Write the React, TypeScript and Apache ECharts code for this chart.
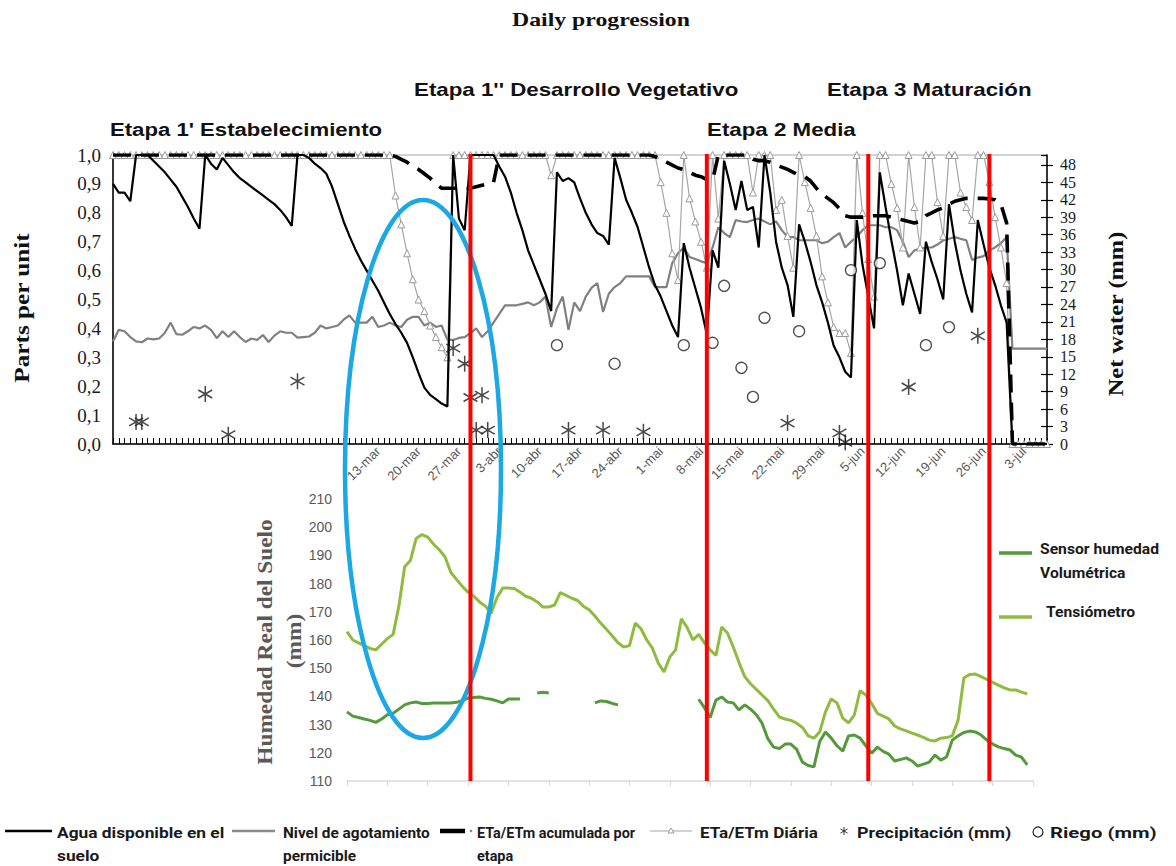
import React, { useEffect, useRef } from 'react';
import * as echarts from 'echarts';

// ---- categories (daily, top panel) ----
const MONTHS = ['ene', 'feb', 'mar', 'abr', 'mai', 'jun', 'jul', 'ago'];
const categories: string[] = [];
for (let i = 0; i < 163; i++) {
  const d = new Date(2015, 0, 26 + i);
  categories.push(`${d.getDate()}-${MONTHS[d.getMonth()]}`);
}
const bottomCategories: string[] = categories.slice(41, 161);

const tickLabels = ['13-mar', '20-mar', '27-mar', '3-abr', '10-abr', '17-abr', '24-abr', '1-mai', '8-mai',
  '15-mai', '22-mai', '29-mai', '5-jun', '12-jun', '19-jun', '26-jun', '3-jul'];
const stageDates = ['29-mar', '9-mai', '6-jun', '27-jun'];

// ---- Agua disponible en el suelo (parts per unit) ----
const agua = [
  0.90, 0.87, 0.87, 0.84, 1.0, 1.0, 1.0, 0.98, 0.96, 0.94,
  0.915, 0.89, 0.855, 0.82, 0.78, 0.745, 1.0, 0.97, 0.95, 0.99,
  0.965, 0.94, 0.92, 0.905, 0.89, 0.875, 0.86, 0.845, 0.83, 0.81,
  0.785, 0.755, 1.0, 1.0, 0.99, 0.97, 0.955, 0.935, 0.89, 0.83,
  0.77, 0.72, 0.675, 0.635, 0.60, 0.565, 0.53, 0.49, 0.45, 0.415,
  0.385, 0.35, 0.30, 0.245, 0.195, 0.17, 0.155, 0.14, 0.13, 1.0,
  0.78, 0.74, 1.0, 1.0, 1.0, 1.0, 1.0, 0.96, 0.925, 0.87,
  0.80, 0.74, 0.67, 0.62, 0.57, 0.52, 0.46, 0.94, 0.91, 0.92,
  0.905, 0.85, 0.80, 0.76, 0.73, 0.72, 0.69, 0.99, 0.92, 0.845,
  0.80, 0.75, 0.68, 0.61, 0.55, 0.51, 0.46, 0.41, 0.37, 0.695,
  0.61, 0.54, 0.47, 0.38, 0.67, 0.61, 0.98, 0.90, 0.81, 0.91,
  0.81, 0.82, 0.68, 1.0, 0.87, 0.70, 0.61, 0.55, 0.44, 0.76,
  0.70, 0.63, 0.55, 0.49, 0.42, 0.34, 0.30, 0.25, 0.23, 0.775,
  0.62, 0.51, 0.40, 0.94, 0.82, 0.705, 0.60, 0.48, 0.59, 0.52,
  0.45, 0.70, 0.63, 0.57, 0.50, 0.83, 0.70, 0.60, 0.52, 0.455,
  0.775, 0.69, 0.61, 0.55, 0.48, 0.42, 0, 0, 0, 0,
  0, 0, 0,
];

// ---- Nivel de agotamiento permicible ----
const nivel = [
  0.355, 0.395, 0.39, 0.37, 0.355, 0.352, 0.365, 0.362, 0.365, 0.385,
  0.42, 0.38, 0.378, 0.39, 0.405, 0.40, 0.41, 0.395, 0.366, 0.39,
  0.37, 0.39, 0.37, 0.353, 0.365, 0.36, 0.377, 0.353, 0.375, 0.39,
  0.385, 0.385, 0.368, 0.37, 0.372, 0.385, 0.41, 0.40, 0.405, 0.41,
  0.43, 0.445, 0.42, 0.42, 0.42, 0.44, 0.405, 0.41, 0.42, 0.41,
  0.405, 0.43, 0.44, 0.44, 0.41, 0.42, 0.405, 0.41, 0.36, 0.36,
  0.367, 0.37, 0.384, 0.40, 0.37, 0.39, 0.42, 0.45, 0.48, 0.48,
  0.48, 0.485, 0.49, 0.48, 0.49, 0.51, 0.405, 0.47, 0.51, 0.395,
  0.49, 0.46, 0.51, 0.54, 0.557, 0.457, 0.52, 0.543, 0.557, 0.58,
  0.58, 0.58, 0.58, 0.58, 0.543, 0.543, 0.543, 0.626, 0.66, 0.68,
  0.647, 0.64, 0.632, 0.626, 0.68, 0.75, 0.73, 0.716, 0.775, 0.77,
  0.768, 0.775, 0.78, 0.77, 0.76, 0.77, 0.74, 0.716, 0.716, 0.705,
  0.705, 0.705, 0.705, 0.695, 0.70, 0.716, 0.73, 0.68, 0.70, 0.716,
  0.74, 0.757, 0.757, 0.757, 0.75, 0.75, 0.74, 0.70, 0.647, 0.67,
  0.675, 0.68, 0.68, 0.69, 0.705, 0.71, 0.716, 0.71, 0.705, 0.637,
  0.645, 0.65, 0.67, 0.68, 0.695, 0.716, 0.33, 0.33, 0.33, 0.33,
  0.33, 0.33, 0.33,
];

// ---- ETa/ETm acumulada por etapa ----
const acumulada = [
  1, 1, 1, 1, 1, 1, 1, 1, 1, 1,
  1, 1, 1, 1, 1, 1, 1, 1, 1, 1,
  1, 1, 1, 1, 1, 1, 1, 1, 1, 1,
  1, 1, 1, 1, 1, 1, 1, 1, 1, 1,
  1, 1, 1, 1, 1, 1, 1, 1, 1, 0.995,
  0.985, 0.975, 0.96, 0.95, 0.935, 0.92, 0.90, 0.885, 0.885, 0.885,
  0.885, 0.885, 0.885, 0.89, 0.895, 0.90, 0.905, 1, 1, 1,
  1, 1, 1, 1, 1, 1, 1, 1, 1, 1,
  1, 1, 1, 1, 1, 1, 1, 1, 1, 1,
  1, 1, 1, 1, 0.995, 0.985, 0.975, 0.965, 0.955, 0.95,
  0.94, 0.93, 0.925, 0.915, 0.913, 1, 1, 1, 1, 1,
  1, 0.985, 0.98, 0.98, 0.975, 0.965, 0.958, 0.95, 0.94, 0.93,
  0.925, 0.91, 0.885, 0.865, 0.85, 0.835, 0.815, 0.79, 0.785, 0.785,
  0.785, 0.786, 0.79, 0.79, 0.79, 0.785, 0.78, 0.775, 0.77, 0.765,
  0.77, 0.79, 0.80, 0.81, 0.817, 0.83, 0.84, 0.845, 0.85, 0.85,
  0.85, 0.85, 0.848, 0.845, 0.83, 0.765, 0, 0, 0, 0,
  0, 0, 0,
];

// ---- ETa/ETm Diária ----
const diaria = [
  1, 1, 1, 1, 1, 1, 1, 1, 1, 1,
  1, 1, 1, 1, 1, 1, 1, 1, 1, 1,
  1, 1, 1, 1, 1, 1, 1, 1, 1, 1,
  1, 1, 1, 1, 1, 1, 1, 1, 1, 1,
  1, 1, 1, 1, 1, 1, 1, 1, 1, 0.86,
  0.76, 0.66, 0.57, 0.50, 0.46, 0.41, 0.37, 0.335, 0.30, 1,
  1, 1, 1, 1, 1, 1, 1, 1, 1, 1,
  1, 1, 1, 1, 1, 1, 0.93, 1, 1, 1,
  1, 1, 1, 1, 1, 1, 1, 1, 1, 1,
  1, 1, 1, 1, 1, 0.906, 0.80, 0.66, 0.567, 1,
  0.85, 0.77, 0.70, 0.61, 1, 0.78, 1, 1, 1, 1,
  1, 0.87, 1, 1, 1, 0.81, 0.845, 0.72, 0.61, 1,
  0.906, 0.817, 0.72, 0.58, 0.49, 0.405, 0.384, 0.384, 0.315, 1,
  0.80, 0.64, 0.51, 1, 1, 0.90, 0.817, 0.68, 1, 0.82,
  0.68, 1, 1, 0.837, 0.72, 1, 1, 0.87, 0.82, 0.775,
  1, 1, 0.906, 0.785, 0.68, 0.557, 0, 0, 0, 0,
  0, 0, 0,
];

// ---- Precipitación and Riego (mm, right axis) ----
const precipDay = [4, 5, 16, 20, 32, 59, 61, 62, 63, 64, 65, 79, 85, 92, 117, 126, 127, 138, 150];
const precipMm = [3.8, 3.8, 8.6, 1.6, 10.8, 16.5, 13.8, 8.0, 2.4, 8.4, 2.4, 2.4, 2.4, 2.1, 3.6, 1.9, 0.3, 9.8, 18.6];
const riegoDay = [77, 87, 99, 104, 106, 109, 111, 113, 119, 128, 133, 141, 145];
const riegoMm = [17.0, 13.8, 17.0, 17.4, 27.2, 13.1, 8.1, 21.7, 19.4, 29.9, 31.1, 17.0, 20.1];

// ---- bottom panel (mm) ----
const tensiometro = [
  163, 160, 159, 158, 157, 156.5, 158.5, 160.5, 162, 172,
  186, 188.2, 196, 197.4, 196.5, 194, 192, 189.5, 184, 181.5,
  179, 177, 175.5, 173.5, 172, 169.5, 175, 178.4, 178.4, 178.3,
  177, 175.5, 174.8, 173.5, 171.7, 171.7, 172.4, 176.8, 175.8, 174.8,
  174, 172, 170.7, 168.5, 166, 163.8, 161.5, 159, 157.5, 158,
  166, 164, 160, 157, 151.8, 148.7, 154, 156.5, 167.5, 164.5,
  160, 162, 159, 156.5, 154.5, 164.6, 162.5, 157.5, 152, 147,
  144.5, 142.5, 140.5, 138.5, 135.5, 132.7, 132, 131.5, 130.5, 129,
  126, 125.2, 127.4, 134.5, 139.1, 137.7, 132.3, 130.6, 133.4, 142,
  140.5, 137.5, 134, 133, 132, 129.5, 128.5, 127.8, 127, 126.3,
  125.5, 124.5, 124.2, 125.2, 125.4, 126, 131.5, 146.5, 147.8, 147.9,
  147, 146, 145, 144, 143, 142.3, 142.3, 141.5, 140.9, null,
];
const sensor = [
  134.5, 133, 132.5, 132, 131.5, 130.8, 132, 133.5, 134, 135.5,
  137, 137.7, 138, 137.5, 137.5, 137.7, 137.7, 137.7, 137.7, 137.9,
  138.5, 139.4, 139.6, 139.8, 139.3, 139, 138.4, 137.7, 139.1, 139.1,
  139.1, null, null, 141.2, 141.5, 141.2, null, null, null, null,
  null, null, null, 137.7, 138.4, 138.2, 137.5, 137, null, null,
  null, null, null, null, null, null, null, null, null, null,
  null, 139, 136, 132.5, 138.7, 139.8, 138, 137.7, 135.2, 137,
  135.5, 133.5, 130.5, 125, 122, 121.5, 123.1, 123.1, 121.2, 116.7,
  115.5, 115, 124, 127.4, 125.2, 122.5, 120.6, 126, 126.3, 125.2,
  122.5, 119.9, 122, 120.5, 119.5, 117.1, 117.6, 118.2, 117.1, 115.3,
  116, 116.7, 119.2, 117.4, 118.5, 124.5, 126, 127.2, 127.7, 127.4,
  126.3, 124.5, 123.1, 122.1, 121.5, 121, 119.2, 118.5, 115.7, null,
];

const ASTERISK = 'path://M10,0L10,20M1.34,5L18.66,15M1.34,15L18.66,5';
const SERIF = '"Liberation Serif", "Times New Roman", serif';
const SANS = '"Liberation Sans", Arial, sans-serif';
const LEG = 'Roboto, "Liberation Sans", sans-serif';

const SENSOR_C = '#559a3a';
const TENS_C = '#8fbc3f';

function txt(text: string, x: number, y: number, font: string, fill = '#111', extra: any = {}) {
  return {
    type: 'text', x, y, z: 120, silent: true,
    rotation: extra.rotation || 0,
    scaleX: extra.sx || 1,
    style: {
      text, font, fill,
      textAlign: extra.align || 'left', align: extra.align || 'left',
      textVerticalAlign: extra.valign || 'middle', verticalAlign: extra.valign || 'middle',
      lineHeight: extra.lineHeight,
    },
  };
}

export default function App() {
  const ref = useRef<HTMLDivElement>(null);
  useEffect(() => {
    if (!ref.current) return;
    const chart = echarts.init(ref.current, undefined, { renderer: 'svg' });
    const option: any = {
      animation: false,
      backgroundColor: '#ffffff',
      grid: [
        { left: 113, right: 129, top: 155, height: 289, show: true, borderColor: '#a6a6a6', borderWidth: 1 },
        { left: 347, right: 143, top: 499, height: 282 },
      ],
      xAxis: [
        {
          type: 'category', gridIndex: 0, data: categories, boundaryGap: false,
          axisLine: { lineStyle: { color: '#000', width: 1.5 } },
          axisTick: { show: true, inside: true, interval: 0, length: 6, lineStyle: { color: '#000', width: 1 } },
          axisLabel: {
            interval: (_i: number, v: string) => tickLabels.includes(v),
            rotate: 45, margin: 5, color: '#595959', fontSize: 13, fontFamily: SANS,
          },
          splitLine: { show: false },
        },
        {
          type: 'category', gridIndex: 1, data: bottomCategories, boundaryGap: false,
          axisLine: { lineStyle: { color: '#d9d9d9', width: 1.5 } },
          axisTick: { show: true, interval: 6, length: 5, lineStyle: { color: '#d9d9d9', width: 1.2 } },
          axisLabel: { show: false },
          splitLine: { show: false },
        },
      ],
      yAxis: [
        {
          type: 'value', gridIndex: 0, min: 0, max: 1, interval: 0.1,
          axisLine: { show: true, lineStyle: { color: '#000', width: 1.5 } },
          axisTick: { show: false }, splitLine: { show: false },
          axisLabel: {
            formatter: (v: number) => v.toFixed(1).replace('.', ','),
            fontFamily: SERIF, fontSize: 19, color: '#1a1a1a', margin: 12,
          },
        },
        {
          type: 'value', gridIndex: 0, position: 'right', min: 0, max: 49.7, interval: 3,
          axisLine: { show: true, lineStyle: { color: '#000', width: 1.5 } },
          axisTick: { show: true, length: 6, lineStyle: { color: '#000', width: 1.2 } },
          splitLine: { show: false },
          axisLabel: { showMaxLabel: false, fontFamily: SERIF, fontSize: 16, color: '#1a1a1a', margin: 13 },
        },
        {
          type: 'value', gridIndex: 0, position: 'right', min: 0, max: 49.7, interval: 3,
          axisLine: { show: false },
          axisTick: { show: true, inside: true, length: 6, lineStyle: { color: '#000', width: 1.2 } },
          axisLabel: { show: false }, splitLine: { show: false },
        },
        {
          type: 'value', gridIndex: 1, min: 110, max: 210, interval: 10,
          axisLine: { show: false }, axisTick: { show: false }, splitLine: { show: false },
          axisLabel: { color: '#595959', fontSize: 14, fontFamily: SANS, margin: 15 },
        },
      ],
      series: [
        {
          name: 'Nivel de agotamiento permicible', type: 'line', xAxisIndex: 0, yAxisIndex: 0, data: nivel,
          symbol: 'none', lineStyle: { color: '#808080', width: 2.2 }, z: 2,
        },
        {
          name: 'ETa/ETm Diária', type: 'line', xAxisIndex: 0, yAxisIndex: 0, data: diaria,
          symbol: 'triangle', symbolSize: 7, showAllSymbol: true,
          lineStyle: { color: '#a6a6a6', width: 1.2 },
          itemStyle: { color: '#ffffff', borderColor: '#9a9a9a', borderWidth: 1 }, z: 3,
        },
        {
          name: 'Agua disponible en el suelo', type: 'line', xAxisIndex: 0, yAxisIndex: 0, data: agua,
          symbol: 'none', lineStyle: { color: '#000', width: 2.2 }, z: 4,
        },
        {
          name: 'ETa/ETm acumulada por etapa', type: 'line', xAxisIndex: 0, yAxisIndex: 0, data: acumulada,
          symbol: 'none', lineStyle: { color: '#000', width: 3.6, type: [18, 10], cap: 'butt' }, z: 5,
        },
        {
          name: 'Precipitación (mm)', type: 'scatter', xAxisIndex: 0, yAxisIndex: 1,
          data: precipDay.map((d, k) => [d, precipMm[k]]),
          symbol: ASTERISK, symbolSize: 16, symbolKeepAspect: true,
          itemStyle: { color: 'rgba(0,0,0,0)', borderColor: '#1a1a1a', borderWidth: 1.5 }, z: 6,
        },
        {
          name: 'Riego (mm)', type: 'scatter', xAxisIndex: 0, yAxisIndex: 1,
          data: riegoDay.map((d, k) => [d, riegoMm[k]]),
          symbol: 'circle', symbolSize: 11,
          itemStyle: { color: '#ffffff', borderColor: '#222', borderWidth: 1.3 }, z: 6,
        },
        {
          name: 'Sensor humedad Volumétrica', type: 'line', xAxisIndex: 1, yAxisIndex: 3, data: sensor,
          symbol: 'none', connectNulls: false, lineStyle: { color: SENSOR_C, width: 3 }, z: 3,
        },
        {
          name: 'Tensiómetro', type: 'line', xAxisIndex: 1, yAxisIndex: 3, data: tensiometro,
          symbol: 'none', lineStyle: { color: TENS_C, width: 3 }, z: 3,
        },
      ],
    };
    chart.setOption(option);

    const yTop = chart.convertToPixel({ yAxisIndex: 0 }, 1) as number;
    const yBot = chart.convertToPixel({ yAxisIndex: 3 }, 110) as number;
    const redLines = stageDates.map((d) => {
      const x = chart.convertToPixel({ xAxisIndex: 0 }, d) as number;
      return {
        type: 'line', z: 110, silent: true,
        shape: { x1: x, y1: yTop - 1, x2: x, y2: yBot },
        style: { stroke: '#ff0000', lineWidth: 4 },
      };
    });

    const legendFont = `bold 14px ${LEG}`;
    const L1 = 822;
    const ML = { valign: 'top', lineHeight: 23 };
    const elements: any[] = [
      txt('Daily progression', 601, 20, `bold 19px ${SERIF}`, '#111', { align: 'center', sx: 1.25 }),
      txt("Etapa 1'' Desarrollo Vegetativo", 414, 90, `bold 18px ${SANS}`, '#111', { sx: 1.24 }),
      txt('Etapa 3 Maturación', 827, 90, `bold 18px ${SANS}`, '#111', { sx: 1.24 }),
      txt("Etapa 1' Estabelecimiento", 110, 130, `bold 18px ${SANS}`, '#111', { sx: 1.23 }),
      txt('Etapa 2 Media', 707, 130, `bold 18px ${SANS}`, '#111', { sx: 1.24 }),
      txt('Parts per unit', 22, 308, `bold 21px ${SERIF}`, '#111', { align: 'center', rotation: Math.PI / 2, sx: 1.2 }),
      txt('Net water (mm)', 1116, 314, `bold 21px ${SERIF}`, '#111', { align: 'center', rotation: Math.PI / 2, sx: 1.16 }),
      txt('Humedad Real del Suelo', 265, 642, `bold 21px ${SERIF}`, '#595959', { align: 'center', rotation: Math.PI / 2, sx: 1.11 }),
      txt('(mm)', 294, 641, `bold 21px ${SERIF}`, '#595959', { align: 'center', rotation: Math.PI / 2, sx: 1.11 }),
      {
        type: 'ellipse', z: 105, silent: true,
        shape: { cx: 423, cy: 469, rx: 78, ry: 269 },
        style: { fill: 'none', stroke: '#1ca8e3', lineWidth: 4.5 },
      },
      ...redLines,
      // bottom-panel legend
      { type: 'line', z: 120, shape: { x1: 999, y1: 553, x2: 1032, y2: 553 }, style: { stroke: SENSOR_C, lineWidth: 3.5 } },
      txt('Sensor humedad\nVolumétrica', 1040, 537, legendFont, '#1a1a1a', { valign: 'top', lineHeight: 24, sx: 1.12 }),
      { type: 'line', z: 120, shape: { x1: 999, y1: 617, x2: 1032, y2: 617 }, style: { stroke: TENS_C, lineWidth: 3.5 } },
      txt('Tensiómetro', 1046, 612, legendFont, '#1a1a1a', { sx: 1.12 }),
      // top-panel legend (bottom of page)
      { type: 'line', z: 120, shape: { x1: 5, y1: 831, x2: 52, y2: 831 }, style: { stroke: '#000', lineWidth: 2.5 } },
      txt('Agua disponible en el\nsuelo', 57, L1, legendFont, '#1a1a1a', { ...ML, sx: 1.24 }),
      { type: 'line', z: 120, shape: { x1: 232, y1: 831, x2: 275, y2: 831 }, style: { stroke: '#8c8c8c', lineWidth: 2.5 } },
      txt('Nivel de agotamiento\npermicible', 283, L1, legendFont, '#1a1a1a', { ...ML, sx: 1.1 }),
      { type: 'line', z: 120, shape: { x1: 440, y1: 831, x2: 465, y2: 831 }, style: { stroke: '#000', lineWidth: 4.5 } },
      { type: 'circle', z: 120, shape: { cx: 471, cy: 831, r: 1.3 }, style: { fill: '#888' } },
      txt('ETa/ETm acumulada por\netapa', 477, L1, legendFont, '#1a1a1a', { ...ML, sx: 1.03 }),
      { type: 'line', z: 120, shape: { x1: 650, y1: 831, x2: 692, y2: 831 }, style: { stroke: '#a6a6a6', lineWidth: 1.2 } },
      { type: 'polygon', z: 121, shape: { points: [[671, 828], [674, 833], [668, 833]] }, style: { fill: '#fff', stroke: '#999', lineWidth: 1 } },
      txt('ETa/ETm Diária', 700, L1, legendFont, '#1a1a1a', { ...ML, sx: 1.22 }),
      { type: 'line', z: 120, shape: { x1: 844, y1: 827, x2: 844, y2: 835 }, style: { stroke: '#333', lineWidth: 1 } },
      { type: 'line', z: 120, shape: { x1: 840.5, y1: 829, x2: 847.5, y2: 833 }, style: { stroke: '#333', lineWidth: 1 } },
      { type: 'line', z: 120, shape: { x1: 840.5, y1: 833, x2: 847.5, y2: 829 }, style: { stroke: '#333', lineWidth: 1 } },
      txt('Precipitación (mm)', 857, L1, legendFont, '#1a1a1a', { ...ML, sx: 1.28 }),
      { type: 'circle', z: 120, shape: { cx: 1038, cy: 832, r: 5 }, style: { fill: '#fff', stroke: '#222', lineWidth: 1.2 } },
      txt('Riego (mm)', 1050, L1, legendFont, '#1a1a1a', { ...ML, sx: 1.45 }),
    ];
    chart.setOption({ graphic: { elements } });

    return () => chart.dispose();
  }, []);
  return (
    <div
      ref={ref}
      style={{ position: 'fixed', left: 0, top: 0, width: 1176, height: 866, background: '#fff' }}
    />
  );
}
